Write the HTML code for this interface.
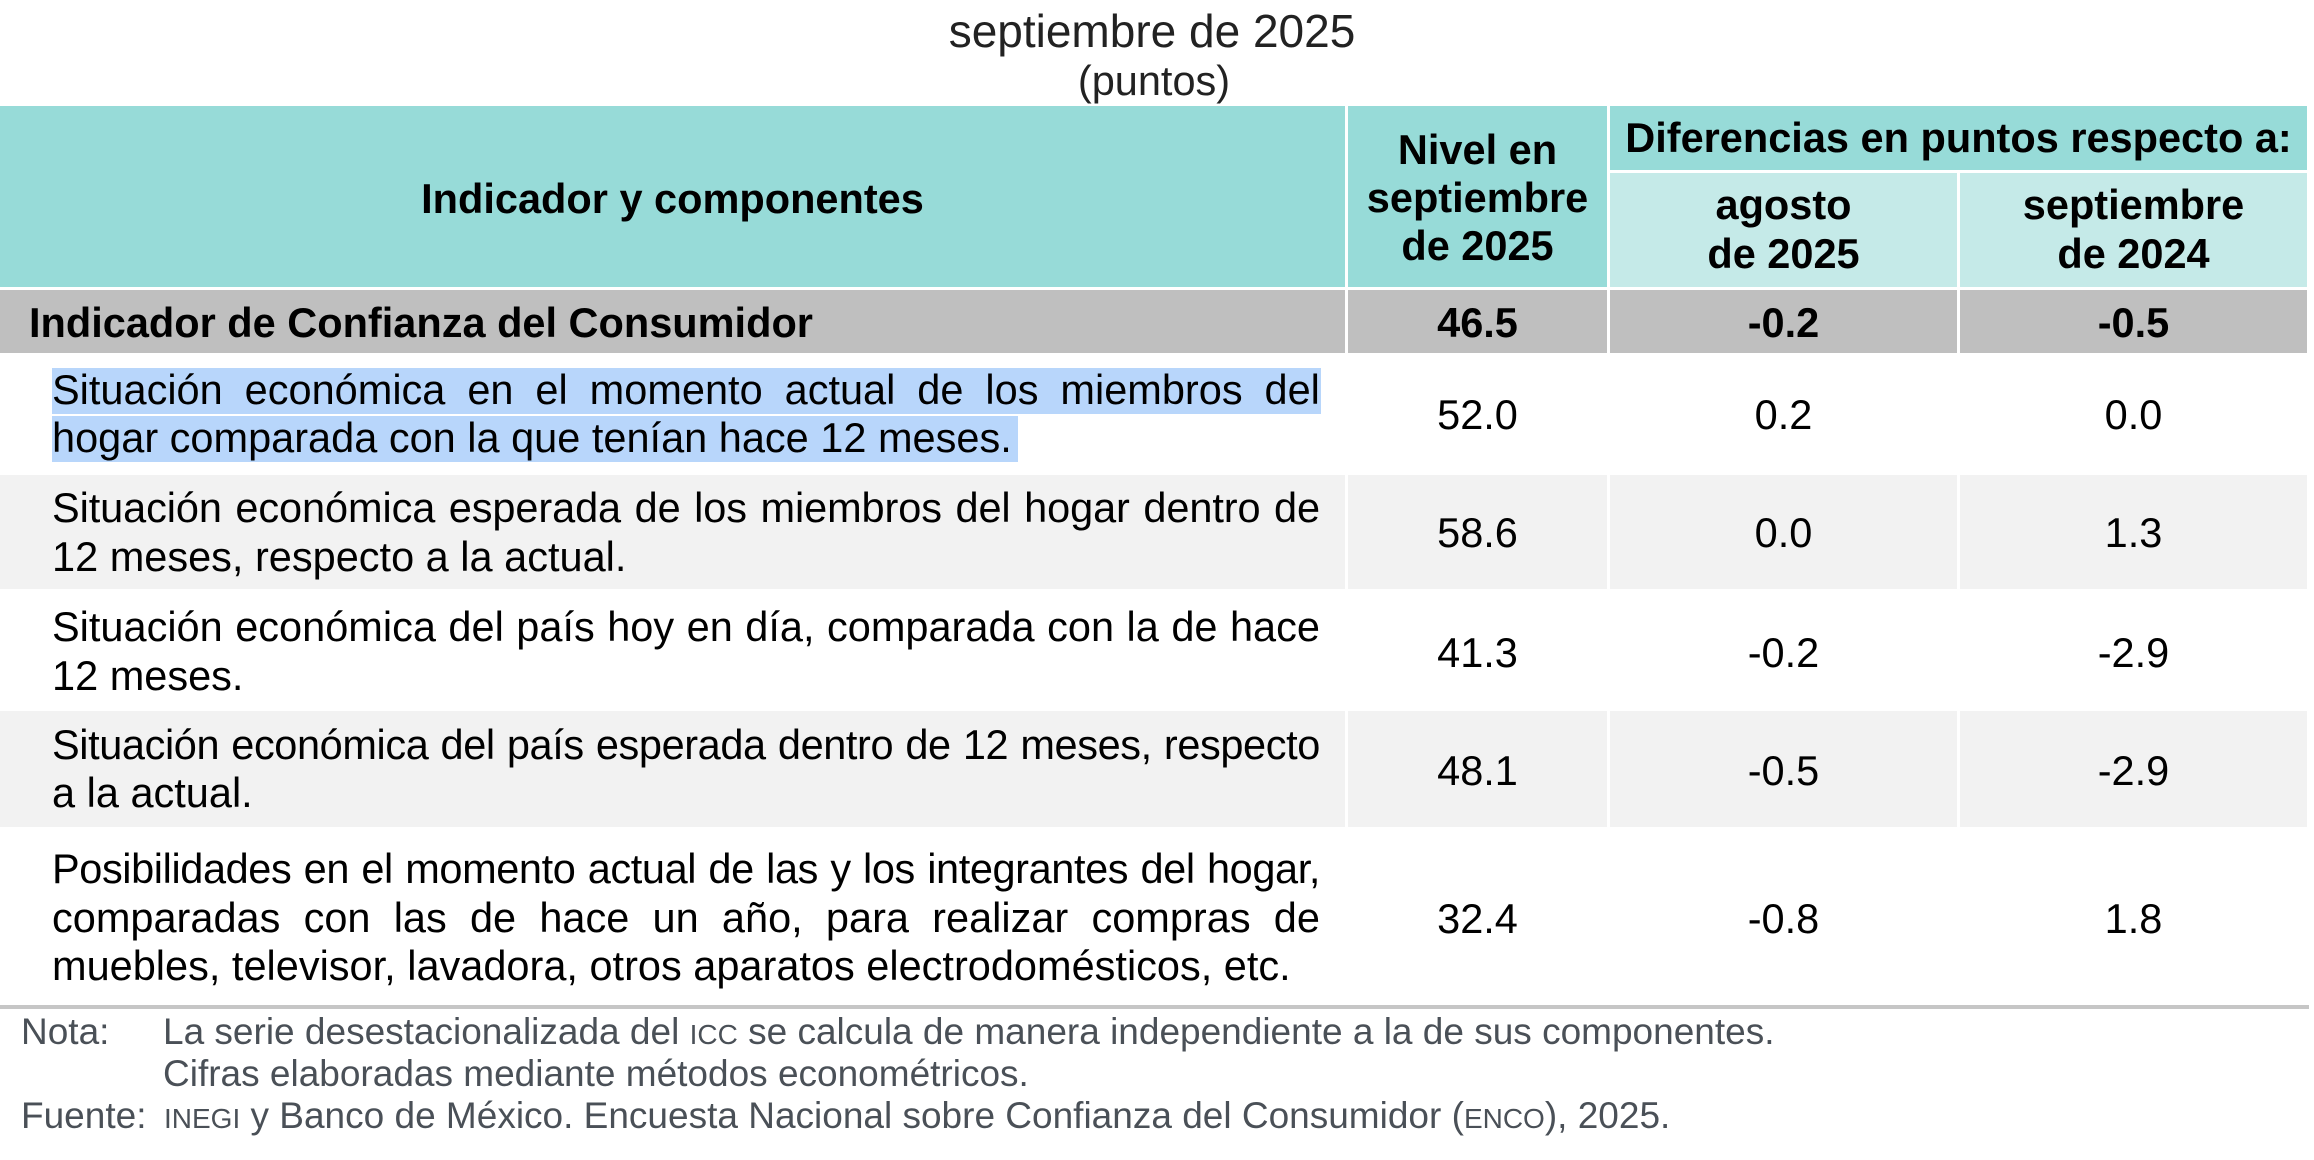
<!DOCTYPE html>
<html>
<head>
<meta charset="utf-8">
<style>
  html, body { margin:0; padding:0; background:#fff; }
  body { width:2314px; height:1160px; position:relative; overflow:hidden;
         font-family:"Liberation Sans", Arial, sans-serif; color:#000; }
  .a { position:absolute; }
  .t { position:absolute; line-height:50px; height:50px; white-space:nowrap; }
  .f415 { font-size:41.5px; }
  .b { font-weight:bold; }
  .c { text-align:center; }
  .j { display:flex; justify-content:space-between; width:1268px; left:52px; }
  .teal { background:#97dbd8; }
  .lteal { background:#c5eae8; }
  .gray { background:#bfbfbf; }
  .alt { background:#f2f2f2; }
  .hl { background:#b8d6fb; }
  .foot { font-size:37px; color:#4a5057; }
  .sc { font-size:28px; }
</style>
</head>
<body>

<!-- Title -->
<div class="t c" style="left:0;top:6px;width:2304px;font-size:46px;color:#222;">septiembre de 2025</div>
<div class="t c f415" style="left:0;top:55.6px;width:2308px;color:#222;">(puntos)</div>

<!-- Header backgrounds -->
<div class="a teal" style="left:0;top:106px;width:1345px;height:181px;"></div>
<div class="a teal" style="left:1348px;top:106px;width:259px;height:181px;"></div>
<div class="a teal" style="left:1610px;top:106px;width:697px;height:64px;"></div>
<div class="a lteal" style="left:1610px;top:173px;width:347px;height:114px;"></div>
<div class="a lteal" style="left:1960px;top:173px;width:347px;height:114px;"></div>

<!-- ICC row backgrounds -->
<div class="a gray" style="left:0;top:290px;width:1345px;height:63px;"></div>
<div class="a gray" style="left:1348px;top:290px;width:259px;height:63px;"></div>
<div class="a gray" style="left:1610px;top:290px;width:347px;height:63px;"></div>
<div class="a gray" style="left:1960px;top:290px;width:347px;height:63px;"></div>

<!-- Alternating rows -->
<div class="a alt" style="left:0;top:475px;width:1345px;height:114px;"></div>
<div class="a alt" style="left:1348px;top:475px;width:259px;height:114px;"></div>
<div class="a alt" style="left:1610px;top:475px;width:347px;height:114px;"></div>
<div class="a alt" style="left:1960px;top:475px;width:347px;height:114px;"></div>

<div class="a alt" style="left:0;top:711px;width:1345px;height:116px;"></div>
<div class="a alt" style="left:1348px;top:711px;width:259px;height:116px;"></div>
<div class="a alt" style="left:1610px;top:711px;width:347px;height:116px;"></div>
<div class="a alt" style="left:1960px;top:711px;width:347px;height:116px;"></div>

<!-- bottom rule -->
<div class="a" style="left:0;top:1005px;width:2309px;height:4px;background:#c6c6c6;"></div>

<!-- highlight -->
<div class="a hl" style="left:52px;top:368px;width:1269px;height:46px;"></div>
<div class="a hl" style="left:52px;top:416px;width:966px;height:46px;"></div>

<!-- Header text -->
<div class="t c f415 b" style="left:0;top:173.6px;width:1345px;">Indicador y componentes</div>
<div class="t c f415 b" style="left:1348px;top:124.6px;width:259px;">Nivel en</div>
<div class="t c f415 b" style="left:1348px;top:172.6px;width:259px;">septiembre</div>
<div class="t c f415 b" style="left:1348px;top:220.6px;width:259px;">de 2025</div>
<div class="t c f415 b" style="left:1610px;top:112.6px;width:697px;">Diferencias en puntos respecto a:</div>
<div class="t c f415 b" style="left:1610px;top:179.6px;width:347px;">agosto</div>
<div class="t c f415 b" style="left:1610px;top:228.6px;width:347px;">de 2025</div>
<div class="t c f415 b" style="left:1960px;top:179.6px;width:347px;">septiembre</div>
<div class="t c f415 b" style="left:1960px;top:228.6px;width:347px;">de 2024</div>

<!-- ICC row text -->
<div class="t f415 b" style="left:29px;top:297.6px;">Indicador de Confianza del Consumidor</div>
<div class="t c f415 b" style="left:1348px;top:297.6px;width:259px;">46.5</div>
<div class="t c f415 b" style="left:1610px;top:297.6px;width:347px;">-0.2</div>
<div class="t c f415 b" style="left:1960px;top:297.6px;width:347px;">-0.5</div>

<!-- Row 1 -->
<div class="t f415 j" style="top:364.6px;"><span>Situación</span><span>económica</span><span>en</span><span>el</span><span>momento</span><span>actual</span><span>de</span><span>los</span><span>miembros</span><span>del</span></div>
<div class="t f415" style="left:52px;top:413.1px;">hogar comparada con la que tenían hace 12 meses.</div>
<div class="t c f415" style="left:1348px;top:389.6px;width:259px;">52.0</div>
<div class="t c f415" style="left:1610px;top:389.6px;width:347px;">0.2</div>
<div class="t c f415" style="left:1960px;top:389.6px;width:347px;">0.0</div>

<!-- Row 2 -->
<div class="t f415 j" style="top:482.6px;letter-spacing:-0.1px;"><span>Situación</span><span>económica</span><span>esperada</span><span>de</span><span>los</span><span>miembros</span><span>del</span><span>hogar</span><span>dentro</span><span>de</span></div>
<div class="t f415" style="left:52px;top:531.6px;">12 meses, respecto a la actual.</div>
<div class="t c f415" style="left:1348px;top:507.6px;width:259px;">58.6</div>
<div class="t c f415" style="left:1610px;top:507.6px;width:347px;">0.0</div>
<div class="t c f415" style="left:1960px;top:507.6px;width:347px;">1.3</div>

<!-- Row 3 -->
<div class="t f415 j" style="top:601.6px;"><span>Situación</span><span>económica</span><span>del</span><span>país</span><span>hoy</span><span>en</span><span>día,</span><span>comparada</span><span>con</span><span>la</span><span>de</span><span>hace</span></div>
<div class="t f415" style="left:52px;top:650.6px;">12 meses.</div>
<div class="t c f415" style="left:1348px;top:627.6px;width:259px;">41.3</div>
<div class="t c f415" style="left:1610px;top:627.6px;width:347px;">-0.2</div>
<div class="t c f415" style="left:1960px;top:627.6px;width:347px;">-2.9</div>

<!-- Row 4 -->
<div class="t f415 j" style="top:719.6px;letter-spacing:-0.4px;"><span>Situación</span><span>económica</span><span>del</span><span>país</span><span>esperada</span><span>dentro</span><span>de</span><span>12</span><span>meses,</span><span>respecto</span></div>
<div class="t f415" style="left:52px;top:767.6px;">a la actual.</div>
<div class="t c f415" style="left:1348px;top:745.6px;width:259px;">48.1</div>
<div class="t c f415" style="left:1610px;top:745.6px;width:347px;">-0.5</div>
<div class="t c f415" style="left:1960px;top:745.6px;width:347px;">-2.9</div>

<!-- Row 5 -->
<div class="t f415 j" style="top:843.6px;letter-spacing:-0.4px;"><span>Posibilidades</span><span>en</span><span>el</span><span>momento</span><span>actual</span><span>de</span><span>las</span><span>y</span><span>los</span><span>integrantes</span><span>del</span><span>hogar,</span></div>
<div class="t f415 j" style="top:892.6px;"><span>comparadas</span><span>con</span><span>las</span><span>de</span><span>hace</span><span>un</span><span>año,</span><span>para</span><span>realizar</span><span>compras</span><span>de</span></div>
<div class="t f415" style="left:52px;top:940.6px;">muebles, televisor, lavadora, otros aparatos electrodomésticos, etc.</div>
<div class="t c f415" style="left:1348px;top:893.6px;width:259px;">32.4</div>
<div class="t c f415" style="left:1610px;top:893.6px;width:347px;">-0.8</div>
<div class="t c f415" style="left:1960px;top:893.6px;width:347px;">1.8</div>

<!-- Footer -->
<div class="t foot" style="left:21px;top:1007.2px;">Nota:</div>
<div class="t foot" style="left:163px;top:1007.2px;">La serie desestacionalizada del <span class="sc">ICC</span> se calcula de manera independiente a la de sus componentes.</div>
<div class="t foot" style="left:163px;top:1049.2px;">Cifras elaboradas mediante métodos econométricos.</div>
<div class="t foot" style="left:21px;top:1091.2px;">Fuente:</div>
<div class="t foot" style="left:164px;top:1091.2px;"><span class="sc">INEGI</span> y Banco de México. Encuesta Nacional sobre Confianza del Consumidor (<span class="sc">ENCO</span>), 2025.</div>

</body>
</html>
